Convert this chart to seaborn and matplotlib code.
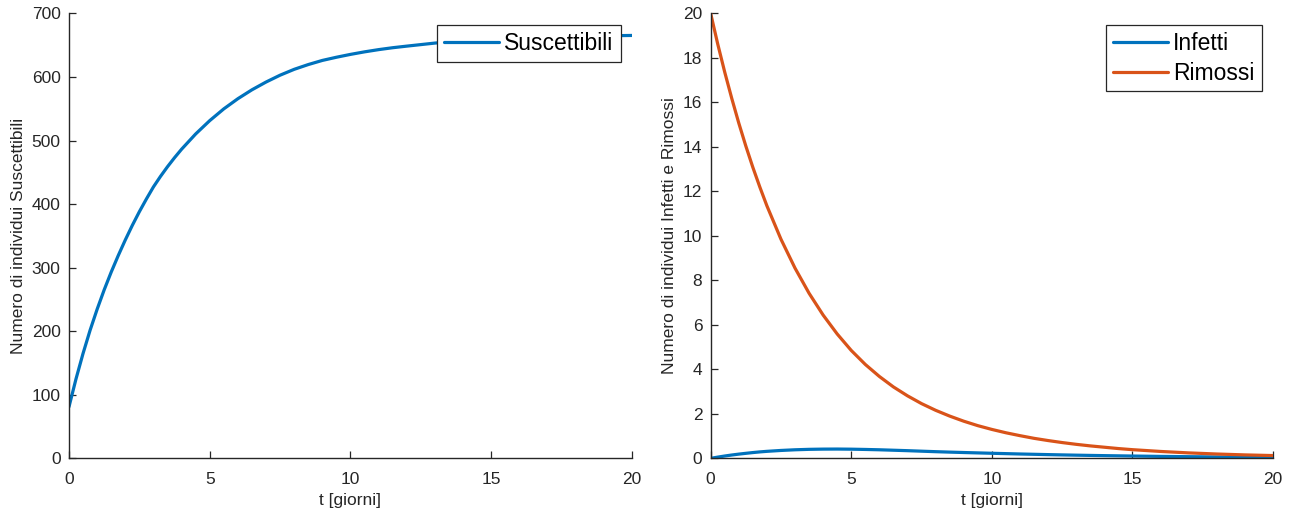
import matplotlib
matplotlib.use("Agg")
import matplotlib.pyplot as plt
import pandas as pd
import seaborn as sns

# Time axis (days) for the susceptible curve
t_sus = [0, 0.25, 0.5, 0.75, 1, 1.25, 1.5, 1.75, 2, 2.25, 2.5, 2.75, 3, 3.25,
         3.5, 3.75, 4, 4.5, 5, 5.5, 6, 6.5, 7, 7.5, 8, 8.5, 9, 9.5, 10, 10.5,
         11, 11.5, 12, 13, 14, 15, 16, 17, 18, 19, 20]
suscettibili = [81, 125, 165, 201.5, 234.5, 265, 293, 319, 343.5, 366.5, 388,
                408, 427, 443.5, 458.8, 473, 486.3, 510.3, 531.3, 549.8, 565.8,
                579.8, 592, 602.8, 612, 619.5, 626, 631, 635.5, 639.5, 643,
                646, 648.5, 653.3, 656.9, 659.5, 661.4, 662.8, 663.9, 664.7,
                665.3]

# Time axis (days) for infected / removed
t_ir = [0, 0.25, 0.5, 0.75, 1, 1.25, 1.5, 1.75, 2, 2.5, 3, 3.5, 4, 4.5, 5,
        5.5, 6, 6.5, 7, 7.5, 8, 8.5, 9, 9.5, 10, 10.5, 11, 11.5, 12, 12.5,
        13, 13.5, 14, 14.5, 15, 16, 17, 18, 19, 20]
infetti = [0.0, 0.055, 0.105, 0.15, 0.19, 0.226, 0.26, 0.29, 0.315, 0.355,
           0.385, 0.405, 0.415, 0.418, 0.412, 0.40, 0.385, 0.365, 0.345,
           0.322, 0.30, 0.28, 0.262, 0.245, 0.228, 0.212, 0.196, 0.182,
           0.168, 0.155, 0.143, 0.132, 0.122, 0.113, 0.104, 0.088, 0.075,
           0.063, 0.053, 0.045]
rimossi = [20.0, 18.63, 17.36, 16.18, 15.07, 14.04, 13.08, 12.19, 11.35, 9.85,
           8.55, 7.42, 6.44, 5.59, 4.85, 4.22, 3.68, 3.21, 2.81, 2.46, 2.16,
           1.9, 1.67, 1.47, 1.3, 1.15, 1.02, 0.9, 0.8, 0.71, 0.63, 0.56, 0.5,
           0.44, 0.39, 0.31, 0.245, 0.195, 0.155, 0.125]

sus_ticks = [0, 100, 200, 300, 400, 500, 600, 700]
ir_ticks = [0, 2, 4, 6, 8, 10, 12, 14, 16, 18, 20]
t_ticks = [0, 5, 10, 15, 20]

BLUE = "#0072BD"
ORANGE = "#D95319"
INK = "#262626"

sns.set_theme(style="ticks")
plt.rcParams["font.family"] = ["Liberation Sans", "DejaVu Sans"]
plt.rcParams.update({
    "axes.edgecolor": INK,
    "axes.labelcolor": INK,
    "xtick.color": INK,
    "ytick.color": INK,
    "text.color": "black",
    "axes.linewidth": 1.0,
})

df_s = pd.DataFrame({"t": t_sus, "val": suscettibili, "serie": "Suscettibili"})
df_ir = pd.concat([
    pd.DataFrame({"t": t_ir, "val": infetti, "serie": "Infetti"}),
    pd.DataFrame({"t": t_ir, "val": rimossi, "serie": "Rimossi"}),
], ignore_index=True)

fig = plt.figure(figsize=(12.94, 5.15), dpi=100)
ax1 = fig.add_axes([0.0533, 0.110, 0.4351, 0.864])
ax2 = fig.add_axes([0.5492, 0.110, 0.4346, 0.864])

sns.lineplot(data=df_s, x="t", y="val", hue="serie", palette=[BLUE],
             linewidth=2.3, ax=ax1, sort=True, estimator=None)
sns.lineplot(data=df_ir, x="t", y="val", hue="serie",
             palette=[BLUE, ORANGE], linewidth=2.3, ax=ax2, sort=True,
             estimator=None)

def style_axes(ax, yticks, ylabel):
    ax.set_xlim(0, 20)
    ax.set_ylim(yticks[0], yticks[-1])
    ax.set_xticks(t_ticks)
    ax.set_yticks(yticks)
    ax.set_xlabel("t [giorni]", fontsize=12.5, labelpad=5)
    ax.set_ylabel(ylabel, fontsize=12.5, labelpad=4)
    ax.tick_params(direction="in", length=5, width=0.9, labelsize=12.5)
    ax.tick_params(axis="x", pad=9.5)
    ax.tick_params(axis="y", pad=6)
    for side in ("top", "right"):
        ax.spines[side].set_visible(False)
    for side in ("left", "bottom"):
        ax.spines[side].set_color(INK)
    leg = ax.legend(loc="upper right", fontsize=16.5, frameon=True,
                    fancybox=False, framealpha=1, edgecolor=INK,
                    handlelength=2.4, handletextpad=0.25, borderpad=0.3,
                    labelspacing=0.3, borderaxespad=0.5)
    leg.get_frame().set_linewidth(0.9)
    leg.set_zorder(10)

style_axes(ax1, sus_ticks, "Numero di individui Suscettibili")
style_axes(ax2, ir_ticks, "Numero di individui Infetti e Rimossi")

fig.savefig("out.png", dpi=100, facecolor="white")
